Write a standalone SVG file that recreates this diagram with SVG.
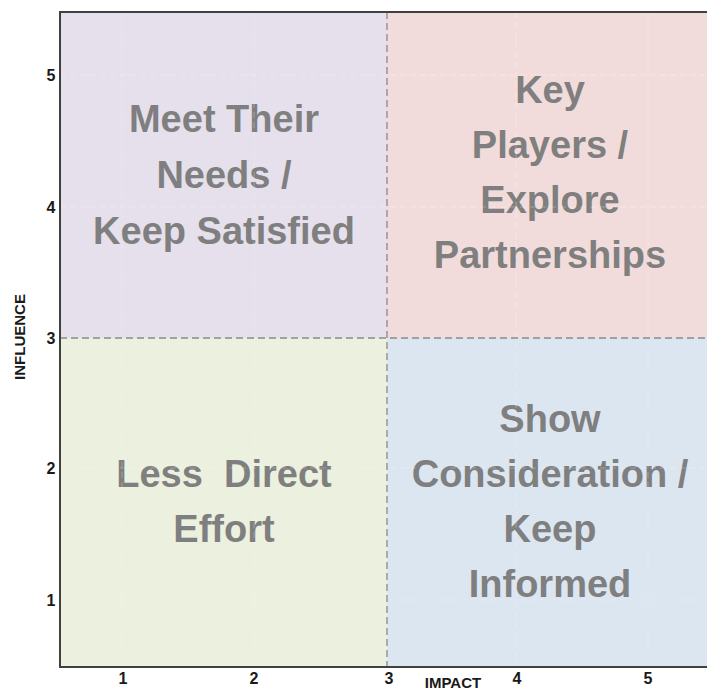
<svg xmlns="http://www.w3.org/2000/svg" width="707" height="692" viewBox="0 0 707 692">
  <style>
    .quad-label { font-family: "Liberation Sans", Arial, sans-serif; font-weight: bold; font-size: 38px; fill: #7f7f7f; text-anchor: middle; white-space: pre; }
    .tick { font-family: "Liberation Sans", Arial, sans-serif; font-weight: bold; font-size: 16px; fill: #1a1a1a; text-anchor: middle; dominant-baseline: central; }
    .axis-title { font-family: "Liberation Sans", Arial, sans-serif; font-weight: bold; font-size: 15px; fill: #1a1a1a; text-anchor: middle; }
    .grid { stroke: #ffffff; stroke-opacity: 0.25; stroke-width: 1; stroke-dasharray: 6 4; fill: none; }
    .divider { stroke: #8a8a8a; stroke-width: 1.3; stroke-dasharray: 7 4; fill: none; }
    .axis { stroke: #404040; stroke-width: 2; fill: none; }
  </style>

  <rect x="0" y="0" width="707" height="692" fill="#ffffff"/>

  <!-- Quadrants -->
  <g id="meet-their-needs">
    <rect x="60" y="12" width="327" height="326" fill="#e5e0ec"/>
    <text class="quad-label" x="224" y="132">Meet Their</text>
    <text class="quad-label" x="224" y="188">Needs /</text>
    <text class="quad-label" x="224" y="244">Keep Satisfied</text>
  </g>
  <g id="key-players">
    <rect x="387" y="12" width="320" height="326" fill="#f2dcdb"/>
    <text class="quad-label" x="550" y="103">Key</text>
    <text class="quad-label" x="550" y="158">Players /</text>
    <text class="quad-label" x="550" y="213">Explore</text>
    <text class="quad-label" x="550" y="268">Partnerships</text>
  </g>
  <g id="less-direct-effort">
    <rect x="60" y="338" width="327" height="329" fill="#ebf1de"/>
    <text class="quad-label" x="224" y="487">Less  Direct</text>
    <text class="quad-label" x="224" y="542">Effort</text>
  </g>
  <g id="show-consideration">
    <rect x="387" y="338" width="320" height="329" fill="#dce6f1"/>
    <text class="quad-label" x="550" y="432">Show</text>
    <text class="quad-label" x="550" y="487">Consideration /</text>
    <text class="quad-label" x="550" y="542">Keep</text>
    <text class="quad-label" x="550" y="597">Informed</text>
  </g>

  <!-- Faint gridlines at tick positions -->
  <g id="gridlines">
    <path class="grid" d="M122 12V667 M254 12V667 M516 12V667 M648 12V667"/>
    <path class="grid" d="M60 75H707 M60 207H707 M60 468H707 M60 600H707"/>
  </g>

  <!-- Quadrant dividers and axes -->
  <g id="connectors">
    <line class="divider" x1="387" y1="12" x2="387" y2="667"/>
    <line class="divider" x1="60" y1="338" x2="707" y2="338"/>
    <line class="axis" x1="60" y1="12" x2="707" y2="12" stroke="#555555"/>
    <line class="axis" x1="60" y1="11" x2="60" y2="668"/>
    <line class="axis" x1="59" y1="667" x2="707" y2="667"/>
  </g>

  <!-- Axis ticks -->
  <g id="y-ticks">
    <text class="tick" x="51" y="75">5</text>
    <text class="tick" x="51" y="207">4</text>
    <text class="tick" x="51" y="338">3</text>
    <text class="tick" x="51" y="468">2</text>
    <text class="tick" x="51" y="600">1</text>
  </g>
  <g id="x-ticks">
    <text class="tick" x="123" y="678">1</text>
    <text class="tick" x="254" y="678">2</text>
    <text class="tick" x="389" y="678">3</text>
    <text class="tick" x="517" y="678">4</text>
    <text class="tick" x="648" y="678">5</text>
  </g>

  <!-- Axis titles -->
  <text id="impact-title" class="axis-title" x="453" y="688">IMPACT</text>
  <text id="influence-title" class="axis-title" transform="translate(25 337) rotate(-90)">INFLUENCE</text>
</svg>
